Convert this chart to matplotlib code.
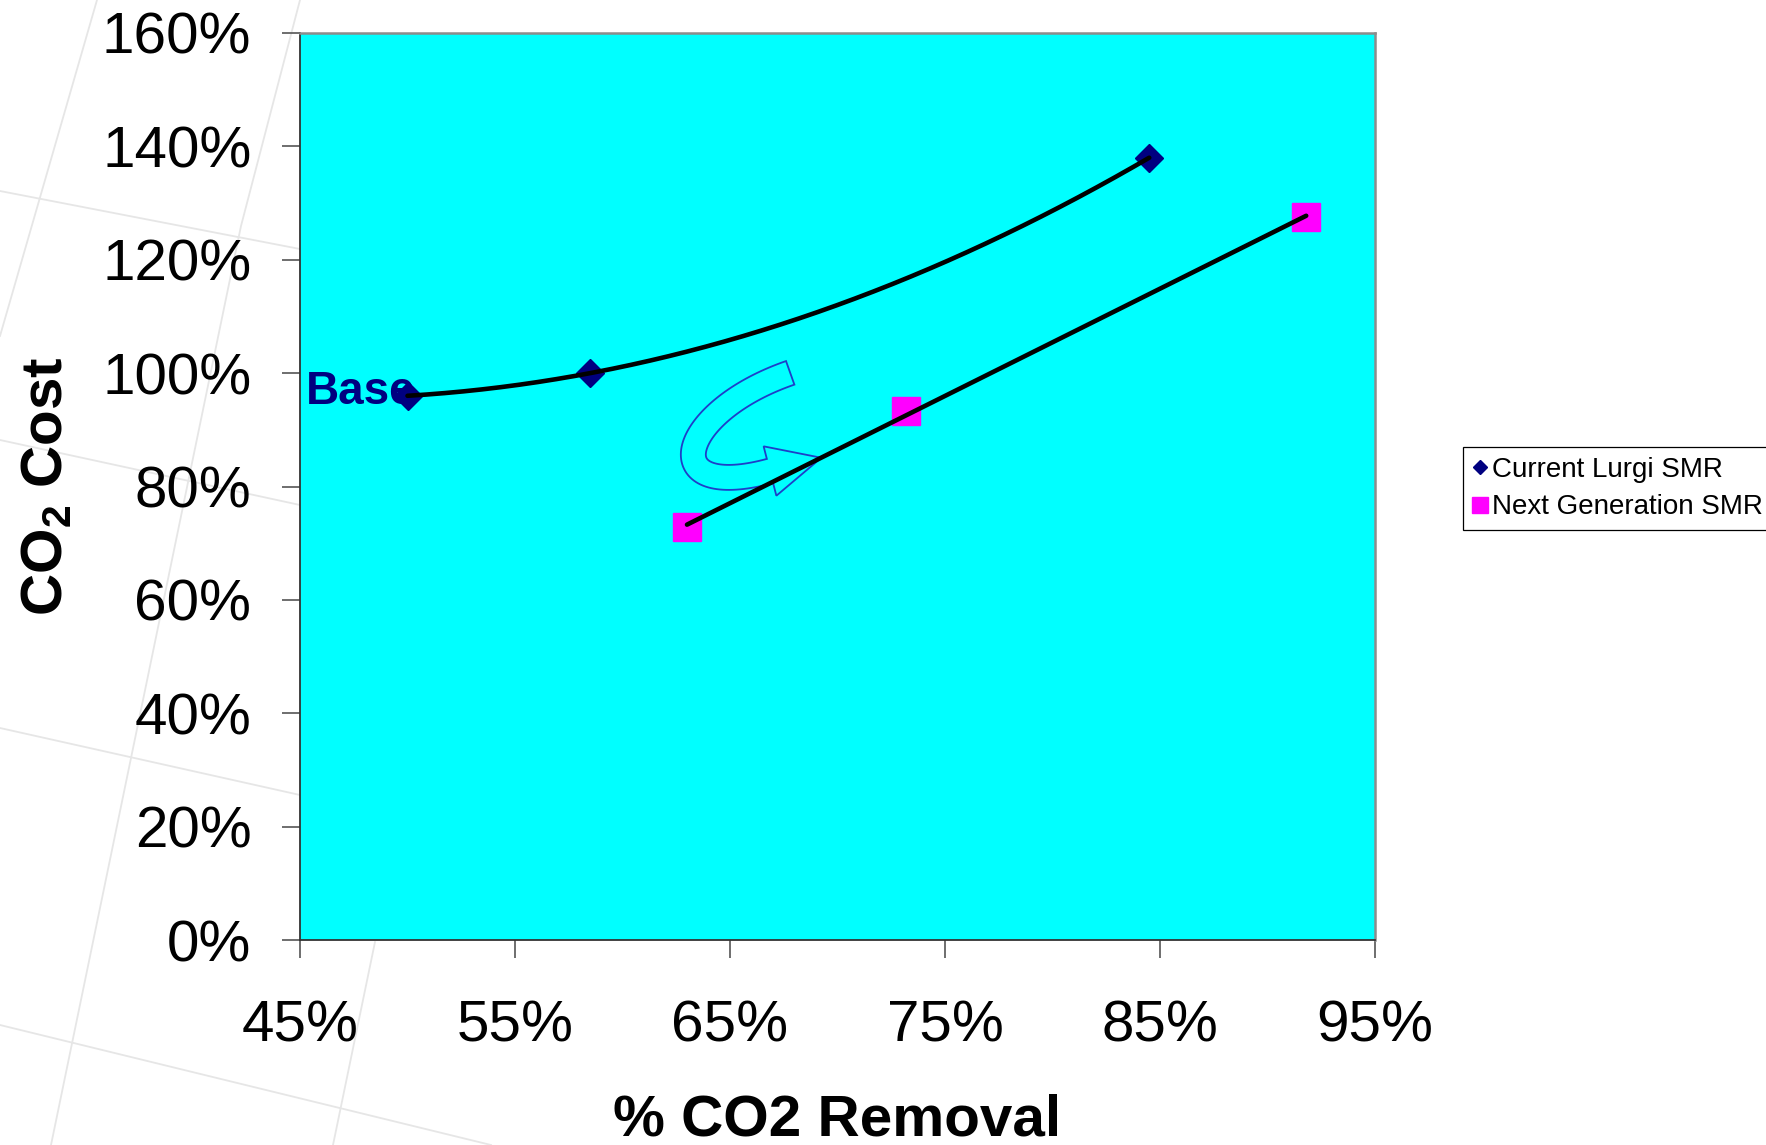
import numpy as np
import matplotlib
matplotlib.use('Agg')
import matplotlib.pyplot as plt
from matplotlib.lines import Line2D
from matplotlib.patches import Polygon
from matplotlib.ticker import PercentFormatter

plt.rcParams['font.family'] = ['Liberation Sans', 'DejaVu Sans']
plt.rcParams['mathtext.fontset'] = 'custom'
plt.rcParams['mathtext.rm'] = 'Liberation Sans'
plt.rcParams['mathtext.bf'] = 'Liberation Sans:bold'

# % CO2 removal vs relative CO2 cost
lurgi_x = [0.50, 0.585, 0.845]
lurgi_y = [0.96, 1.00, 1.38]
nextgen_x = [0.63, 0.732, 0.918]
nextgen_y = [0.728, 0.933, 1.275]

series_names = ['Current Lurgi SMR', 'Next Generation SMR']
x_ticks = [0.45, 0.55, 0.65, 0.75, 0.85, 0.95]
y_ticks = [0.0, 0.2, 0.4, 0.6, 0.8, 1.0, 1.2, 1.4, 1.6]


def block_arrow(ax, ctrl, tail_w, head_w, head_len, **kw):
    # curved block arrow: cubic bezier centre line (data coords), widths in pixels
    p = ax.transData.transform(np.array(ctrl))
    t = np.linspace(0, 1, 80)[:, None]
    c = ((1 - t) ** 3 * p[0] + 3 * (1 - t) ** 2 * t * p[1]
         + 3 * (1 - t) * t ** 2 * p[2] + t ** 3 * p[3])
    d = np.gradient(c, axis=0)
    d /= np.linalg.norm(d, axis=1)[:, None]
    n = np.column_stack([-d[:, 1], d[:, 0]])
    left = c + n * tail_w / 2
    right = c - n * tail_w / 2
    end_dir = d[-1]
    end_n = n[-1]
    tip = c[-1] + end_dir * head_len
    outline = np.vstack([left, c[-1] + end_n * head_w / 2, tip,
                         c[-1] - end_n * head_w / 2, right[::-1]])
    pts = ax.transData.inverted().transform(outline)
    ax.add_patch(Polygon(pts, closed=True, **kw))


W, H = 1766, 1145
fig = plt.figure(figsize=(W / 100, H / 100), dpi=100)
fig.patch.set_facecolor('white')

# faint perspective lines of the slide background
bg_lines = [
    [(0, 191), (300, 249)],
    [(0, 440), (300, 505)],
    [(0, 728), (300, 795)],
    [(0, 1025), (491, 1145)],
    [(51, 1145), (241, 226), (300, 0)],
    [(333, 1145), (375, 942)],
    [(97, 0), (0, 336)],
]
for pts in bg_lines:
    xs = [p[0] / W for p in pts]
    ys = [1 - p[1] / H for p in pts]
    fig.add_artist(Line2D(xs, ys, transform=fig.transFigure, color='#e6e6e6',
                          lw=1.3, zorder=0))

ax = fig.add_axes([300 / W, 1 - 940 / H, 1075 / W, 907 / H])
ax.set_facecolor('#00FFFF')
ax.set_xlim(0.45, 0.95)
ax.set_ylim(0, 1.6)

ax.plot(lurgi_x, lurgi_y, linestyle='none', marker='D', markersize=14,
        color='#000080', zorder=3)
ax.plot(nextgen_x, nextgen_y, linestyle='none', marker='s', markersize=20,
        color='#FF00FF', zorder=3)

# trendlines: 2nd order poly for the current plant, linear for next gen
p2 = np.polyfit(lurgi_x, lurgi_y, 2)
xx = np.linspace(min(lurgi_x), max(lurgi_x), 200)
ax.plot(xx, np.polyval(p2, xx), color='black', lw=3.3, solid_capstyle='round', zorder=4)
p1 = np.polyfit(nextgen_x, nextgen_y, 1)
xx = np.linspace(min(nextgen_x), max(nextgen_x), 50)
ax.plot(xx, np.polyval(p1, xx), color='black', lw=3.3, solid_capstyle='round', zorder=4)

ax.annotate('Base', xy=(lurgi_x[0], lurgi_y[0]), xytext=(6, -6),
            textcoords='offset points', ha='right', va='baseline',
            fontsize=33, fontweight='bold', color='#000080', zorder=2)

# curved arrow from the current curve down to the next generation line
block_arrow(ax, [(0.678, 1.0005), (0.6252, 0.9313), (0.6147, 0.7726), (0.6686, 0.8273)],
            tail_w=25, head_w=51, head_len=53,
            facecolor='none', edgecolor='#1e3fc8', lw=1.3, zorder=2)

ax.set_xticks(x_ticks)
ax.set_yticks(y_ticks)
ax.xaxis.set_major_formatter(PercentFormatter(xmax=1.0, decimals=0))
ax.yaxis.set_major_formatter(PercentFormatter(xmax=1.0, decimals=0))
ax.tick_params(axis='both', direction='out', length=13, width=1.2, color='#555555',
               labelsize=42)
ax.tick_params(axis='x', pad=30)
ax.tick_params(axis='y', pad=22)

for s in ['left', 'bottom']:
    ax.spines[s].set_color('#333333')
    ax.spines[s].set_linewidth(1.3)
for s in ['top', 'right']:
    ax.spines[s].set_color('#8c8c8c')
    ax.spines[s].set_linewidth(1.8)

ax.set_xlabel('% CO2 Removal', fontsize=42, fontweight='bold')
ax.xaxis.set_label_coords(0.5, -0.169)
ax.set_ylabel(r'CO$_\mathbf{2}$ Cost', fontsize=42, fontweight='bold')
ax.yaxis.set_label_coords(-0.21, 0.5)

handles = [
    Line2D([], [], linestyle='none', marker='D', markersize=7.5, color='#000080'),
    Line2D([], [], linestyle='none', marker='s', markersize=12, color='#FF00FF'),
]
leg = fig.legend(handles, series_names, loc='upper left',
                 bbox_to_anchor=(1463 / W, 1 - 447 / H), borderaxespad=0,
                 fontsize=20, handlelength=0.5, handletextpad=0.2,
                 borderpad=0.35, labelspacing=0.42, fancybox=False,
                 framealpha=1, edgecolor='black')
leg.get_frame().set_linewidth(0.9)

fig.savefig('out.png', dpi=100)
